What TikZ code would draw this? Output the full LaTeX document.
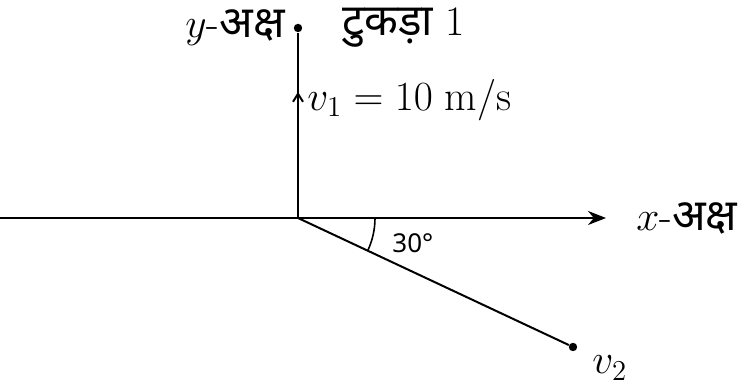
\documentclass[tikz,border=0pt]{standalone}
\usepackage{fontspec}
\usepackage{amsmath}
\usetikzlibrary{arrows.meta,decorations.markings}
\newfontfamily\hindi[Script=Devanagari]{Noto Sans}
\newfontfamily\numfont{Noto Sans}
\newcommand{\dev}[1]{{\hindi\fontsize{22}{25}\selectfont #1}}

\tikzset{
  piece/.style={circle,fill=black,inner sep=0pt,minimum size=4.2pt},
  lbl/.style={font=\fontsize{21}{24}\selectfont,inner sep=1pt},
  axisline/.style={line width=1pt},
}

\begin{document}
\begin{tikzpicture}[x=0.5pt,y=0.5pt]
  \useasboundingbox (0,0) rectangle (751,390);
  % axes, origin and the two pieces
  \coordinate (O) at (298,172);
  \coordinate (xa) at (0,172);
  \coordinate (xb) at (606,172);
  \node[piece] (p1) at (298,362) {};
  \node[piece] (p2) at (573,43) {};
  \draw[axisline,-{Stealth[length=9pt,width=7pt]}] (xa) -- (xb);
  \draw[axisline,postaction={decorate},
    decoration={markings,mark=at position 0.68 with {\arrow{Straight Barb[length=4pt,width=5pt]}}}]
    (O) -- (p1);
  \draw[axisline] (O) -- (p2);
  \draw[line width=0.8pt] (O) ++(77,0) arc[start angle=0,end angle=-25.1,radius=77];
  % labels
  \node[lbl,anchor=east] (ylab) at (287,362) {$y$-\dev{अक्ष}};
  \node[lbl,anchor=west] (p1lab) at (340,362) {\dev{टुकड़ा} 1};
  \node[lbl,anchor=west] (v1lab) at (305,290) {$v_1 = 10\;\mathrm{m}/\mathrm{s}$};
  \node[lbl,anchor=west] (xlab) at (634,172) {$x$-\dev{अक्ष}};
  \node[lbl,anchor=west] (v2lab) at (590,22) {$v_2$};
  \node[lbl,anchor=west,font=\numfont\fontsize{13}{15}\selectfont] (ang) at (390,147) {30°};
\end{tikzpicture}
\end{document}
